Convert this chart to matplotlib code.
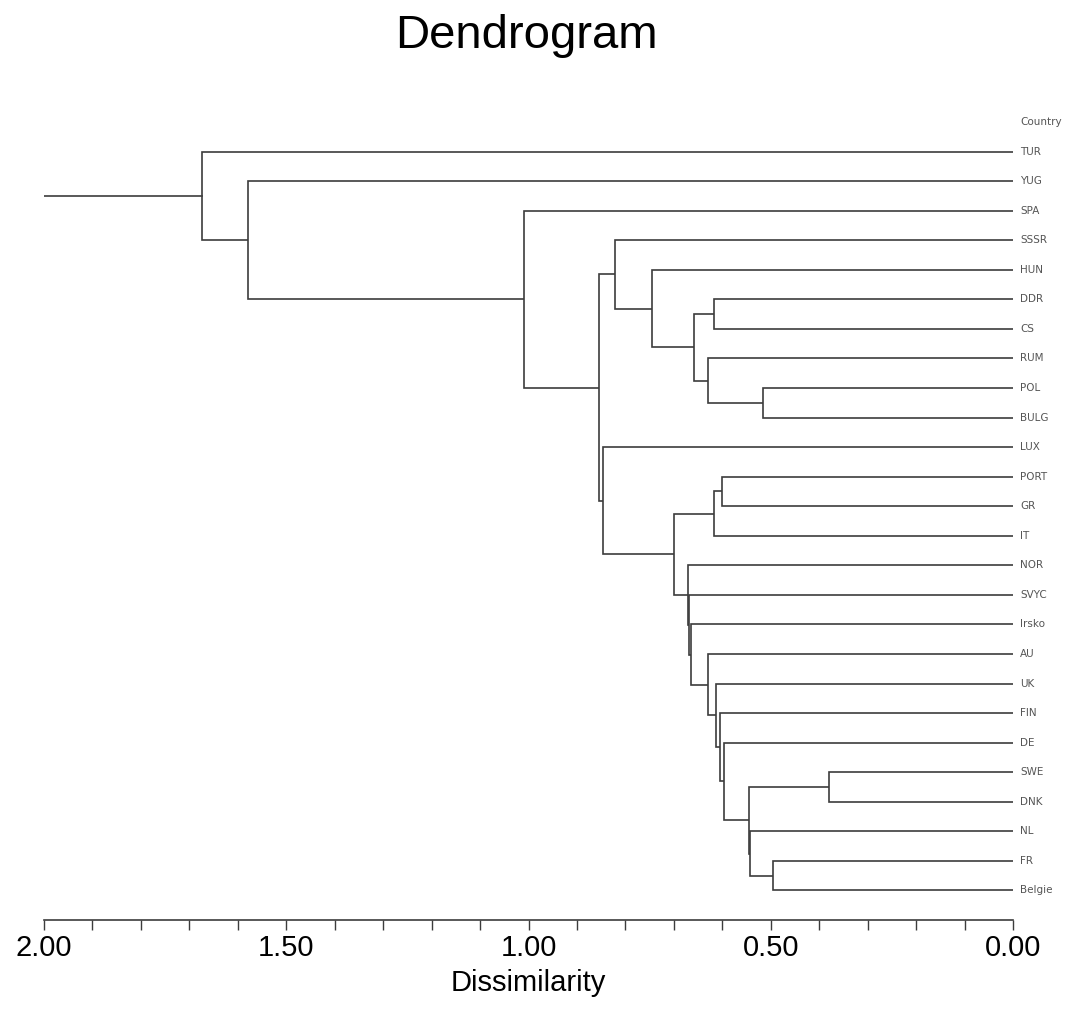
import matplotlib
matplotlib.use("Agg")
import matplotlib.pyplot as plt
from matplotlib.ticker import MultipleLocator

# leaves, top to bottom
labels = ['TUR', 'YUG', 'SPA', 'SSSR', 'HUN', 'DDR', 'CS', 'RUM', 'POL', 'BULG',
          'LUX', 'PORT', 'GR', 'IT', 'NOR', 'SVYC', 'Irsko', 'AU', 'UK', 'FIN',
          'DE', 'SWE', 'DNK', 'NL', 'FR', 'Belgie']
header = 'Country'

# merges, scipy style: ids < 26 are leaves, merge k gets id 26 + k
merge_a = [8, 7, 5, 28, 4, 3, 11, 32, 21, 24, 23, 34, 20, 19, 18, 17, 16, 15, 14, 33, 10, 31, 2, 1, 0]
merge_b = [9, 26, 6, 27, 29, 30, 12, 13, 22, 25, 35, 36, 37, 38, 39, 40, 41, 42, 43, 44, 45, 46, 47, 48, 49]
heights = [0.515, 0.629, 0.617, 0.658, 0.745, 0.821, 0.600, 0.617, 0.380, 0.496,
           0.5435, 0.5445, 0.597, 0.605, 0.613, 0.629, 0.665, 0.668, 0.670, 0.699,
           0.846, 0.854, 1.009, 1.579, 1.674]
x_max = 2.0

line_color = '#3c3c3c'

fig = plt.figure(figsize=(10.70, 10.14), dpi=100)
W, H = 1070, 1014
ax = fig.add_axes([44 / W, (H - 920) / H, (1013 - 44) / W, (920 - 92.5) / H])

n = len(labels)
pos_x = {i: 0.0 for i in range(n)}
pos_y = {i: i + 1 for i in range(n)}

for k, (a, b, h) in enumerate(zip(merge_a, merge_b, heights)):
    ax.plot([pos_x[a], h, h, pos_x[b]], [pos_y[a], pos_y[a], pos_y[b], pos_y[b]],
            color=line_color, lw=1.2, solid_joinstyle='miter', solid_capstyle='butt')
    pos_x[n + k] = h
    pos_y[n + k] = (pos_y[a] + pos_y[b]) / 2

root = n + len(heights) - 1
ax.plot([pos_x[root], x_max], [pos_y[root], pos_y[root]], color=line_color, lw=1.2)

lab_font = dict(family='DejaVu Sans', fontsize=7.5, color='#555555', va='center')
ax.annotate(header, xy=(0, 0), xytext=(5, 0), textcoords='offset points', **lab_font)
for i, lab in enumerate(labels):
    ax.annotate(lab, xy=(0, i + 1), xytext=(5, 0), textcoords='offset points', **lab_font)

ax.set_xlim(x_max, 0)
ax.set_ylim(n + 1, -1)
for s in ['top', 'right', 'left']:
    ax.spines[s].set_visible(False)
ax.spines['bottom'].set_color(line_color)
ax.spines['bottom'].set_linewidth(1.2)
ax.set_yticks([])
ax.xaxis.set_major_locator(MultipleLocator(0.5))
ax.xaxis.set_minor_locator(MultipleLocator(0.1))
ax.xaxis.set_major_formatter(lambda v, p: f'{v:.2f}')
ax.tick_params(axis='x', which='both', direction='out', length=7.2, width=1, color=line_color)
ax.tick_params(axis='x', which='major', pad=3, labelsize=21)
for t in ax.get_xticklabels():
    t.set_family('Liberation Sans')

fig.text(526 / W, 1 - 36 / H, 'Dendrogram', ha='center', va='center',
         family='Liberation Sans', fontsize=34)
fig.text(528 / W, 1 - 983 / H, 'Dissimilarity', ha='center', va='center',
         family='Liberation Sans', fontsize=21)

fig.savefig('out.png', dpi=100)
